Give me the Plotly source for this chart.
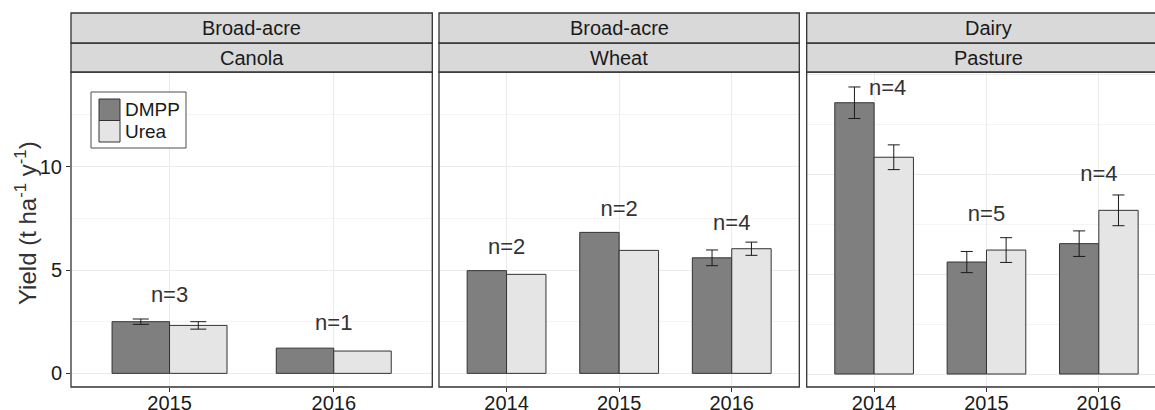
import plotly.graph_objects as go

# ---------------- data ----------------
canola_years = ["2015", "2016"]
canola_dmpp = [2.50, 1.22]
canola_urea = [2.32, 1.08]
canola_dmpp_se = [0.13, None]
canola_urea_se = [0.18, None]
canola_n = [3, 1]
canola_label_y = [3.7, 2.34]

wheat_years = ["2014", "2015", "2016"]
wheat_dmpp = [4.97, 6.82, 5.59]
wheat_urea = [4.79, 5.95, 6.03]
wheat_dmpp_se = [None, None, 0.38]
wheat_urea_se = [None, None, 0.32]
wheat_n = [2, 2, 4]
wheat_label_y = [6.05, 7.87, 7.21]

pasture_years = ["2014", "2015", "2016"]
pasture_dmpp = [13.59, 5.61, 6.53]
pasture_urea = [10.86, 6.21, 8.20]
pasture_dmpp_se = [0.79, 0.53, 0.64]
pasture_urea_se = [0.62, 0.62, 0.77]
pasture_n = [4, 5, 4]
pasture_label_y = [14.23, 7.93, 9.97]

strip_top = ["Broad-acre", "Broad-acre", "Dairy"]
strip_bottom = ["Canola", "Wheat", "Pasture"]
treatments = ["DMPP", "Urea"]

# ---------------- styling / layout ----------------
W, H = 1155, 410
ML, MR, MT, MB = 71, 0, 13, 23
PW, PH = W - ML - MR, H - MT - MB
FONT = "Liberation Sans, Arial, sans-serif"
C_DMPP = "#7f7f7f"
C_UREA = "#e5e5e5"
EDGE = "#333333"
GRID = "#ebebeb"
GRID_MINOR = "#f4f4f4"


def px_x(px):
    return (px - ML) / PW


def px_y(py):
    return (MT + PH - py) / PH


panel_px = [(71, 432.3), (439, 799.3), (806.7, 1170)]
panel_top, panel_bottom = 72, 387
strip_mid, strip_topy = 43, 13
x_ranges = [[-0.6, 1.6], [-0.6, 2.6], [-0.6, 2.5]]
y_ranges = [[-0.66, 14.58], [-0.66, 14.58], [-0.65, 15.13]]
cap_w = [8, 6, 6]
label_dx = [[0, 0], [0, 0, 0], [0.12, 0, 0]]

panels = [
    (canola_years, canola_dmpp, canola_urea, canola_dmpp_se, canola_urea_se, canola_n, canola_label_y),
    (wheat_years, wheat_dmpp, wheat_urea, wheat_dmpp_se, wheat_urea_se, wheat_n, wheat_label_y),
    (pasture_years, pasture_dmpp, pasture_urea, pasture_dmpp_se, pasture_urea_se, pasture_n, pasture_label_y),
]

fig = go.Figure()
bw = 0.35
for p, (years, dm, ur, dmse, urse, ns, ly) in enumerate(panels):
    xa = "x" if p == 0 else f"x{p+1}"
    ya = "y" if p == 0 else f"y{p+1}"
    idx = list(range(len(years)))
    for vals, ses, col, off, name in [(dm, dmse, C_DMPP, -bw / 2, "DMPP"), (ur, urse, C_UREA, bw / 2, "Urea")]:
        fig.add_trace(go.Bar(
            x=[i + off for i in idx], y=vals, width=bw, name=name,
            marker=dict(color=col, line=dict(color=EDGE, width=1)),
            xaxis=xa, yaxis=ya, showlegend=False,
        ))
        ex = [i + off for i, s in zip(idx, ses) if s is not None]
        ey = [v for v, s in zip(vals, ses) if s is not None]
        ee = [s for s in ses if s is not None]
        if ex:
            fig.add_trace(go.Scatter(
                x=ex, y=ey, mode="markers", marker=dict(size=1, opacity=0),
                error_y=dict(type="data", array=ee, color="#1a1a1a", thickness=1, width=cap_w[p]),
                xaxis=xa, yaxis=ya, showlegend=False, hoverinfo="skip",
            ))
    fig.add_trace(go.Scatter(
        x=[i + d for i, d in zip(idx, label_dx[p])], y=ly, mode="text",
        text=[f"n={n}" for n in ns], textposition="middle center",
        textfont=dict(family=FONT, size=22, color="#333333"),
        xaxis=xa, yaxis=ya, showlegend=False, hoverinfo="skip",
    ))

layout = dict(
    width=W, height=H, margin=dict(l=ML, r=MR, t=MT, b=MB, autoexpand=False),
    paper_bgcolor="white", plot_bgcolor="white",
    barmode="overlay", showlegend=False,
    font=dict(family=FONT, color="#1a1a1a"),
)
ydom = [0, px_y(panel_top)]
for p in range(3):
    sx = "" if p == 0 else str(p + 1)
    years = panels[p][0]
    x0, x1 = panel_px[p]
    layout[f"xaxis{sx}"] = dict(
        domain=[px_x(x0), min(1.0, px_x(x1))], range=x_ranges[p],
        tickmode="array", tickvals=list(range(len(years))), ticktext=years,
        showgrid=True, gridcolor=GRID, gridwidth=1, zeroline=False,
        ticks="outside", ticklen=4, tickcolor=EDGE, tickwidth=1,
        automargin=False, ticklabelstandoff=-6,
        tickfont=dict(family=FONT, size=20, color="#1a1a1a"),
        anchor="y" if p == 0 else f"y{p+1}", fixedrange=True,
    )
    layout[f"yaxis{sx}"] = dict(
        domain=ydom, range=y_ranges[p], tick0=0, dtick=5,
        showgrid=True, gridcolor=GRID, gridwidth=1, zeroline=False,
        minor=dict(dtick=2.5, showgrid=True, gridcolor=GRID_MINOR, gridwidth=1),
        showticklabels=(p == 0), ticks="outside" if p == 0 else "",
        ticklen=4, tickcolor=EDGE, tickwidth=1, automargin=False,
        tickfont=dict(family=FONT, size=20, color="#1a1a1a"),
        anchor="x" if p == 0 else f"x{p+1}", fixedrange=True,
    )
fig.update_layout(**layout)

shapes = []
annotations = []
for p in range(3):
    x0, x1 = panel_px[p]
    shapes.append(dict(type="rect", xref="paper", yref="paper",
                       x0=px_x(x0), x1=px_x(x1), y0=px_y(panel_bottom), y1=px_y(panel_top),
                       line=dict(color=EDGE, width=1.3), fillcolor="rgba(0,0,0,0)", layer="above"))
    for (ya, yb, txt) in [(strip_mid, panel_top, strip_bottom[p]), (strip_topy, strip_mid, strip_top[p])]:
        shapes.append(dict(type="rect", xref="paper", yref="paper",
                           x0=px_x(x0), x1=px_x(x1), y0=px_y(yb), y1=px_y(ya),
                           line=dict(color=EDGE, width=1.3), fillcolor="#d9d9d9", layer="above"))
        annotations.append(dict(xref="paper", yref="paper",
                                x=px_x((x0 + x1) / 2), y=px_y((ya + yb) / 2),
                                text=txt, showarrow=False,
                                xanchor="center", yanchor="middle",
                                font=dict(family=FONT, size=20, color="#1a1a1a")))

# legend (manual, inside Canola panel)
shapes.append(dict(type="rect", xref="paper", yref="paper",
                   x0=px_x(91), x1=px_x(186), y0=px_y(148), y1=px_y(92),
                   line=dict(color="#4d4d4d", width=1), fillcolor="white", layer="above"))
for k, (name, col) in enumerate(zip(treatments, [C_DMPP, C_UREA])):
    ytop = 99 + k * 21.5
    shapes.append(dict(type="rect", xref="paper", yref="paper",
                       x0=px_x(99), x1=px_x(120), y0=px_y(ytop + 21.5), y1=px_y(ytop),
                       line=dict(color=EDGE, width=1), fillcolor=col, layer="above"))
    annotations.append(dict(xref="paper", yref="paper", x=px_x(123), y=px_y(ytop + 10.75),
                            text=name, showarrow=False, xanchor="left", yanchor="middle",
                            font=dict(family=FONT, size=19, color="#1a1a1a")))

# y-axis title
annotations.append(dict(xref="paper", yref="paper", x=px_x(26), y=px_y(223),
                        text="Yield (t ha<sup>-1</sup> y<sup>-1</sup>)", showarrow=False,
                        textangle=-90, xanchor="center", yanchor="middle",
                        font=dict(family=FONT, size=24, color="#333333")))

fig.update_layout(shapes=shapes, annotations=annotations)
fig.write_html(
    "out.html",
    config={"displayModeBar": False},
    post_script="document.body.style.margin='0';document.body.style.padding='0';document.body.style.overflow='hidden';",
)
